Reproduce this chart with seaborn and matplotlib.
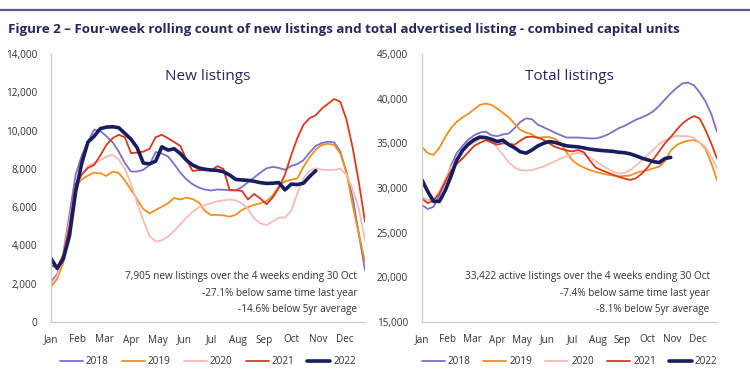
import numpy as np
import pandas as pd
import matplotlib
matplotlib.use("Agg")
import matplotlib.pyplot as plt
import seaborn as sns

sns.set_theme(style="white")
plt.rcParams['font.family'] = ['Open Sans', 'DejaVu Sans']

months = ["Jan", "Feb", "Mar", "Apr", "May", "Jun", "Jul", "Aug", "Sep", "Oct", "Nov", "Dec"]
years = ["2018", "2019", "2020", "2021", "2022"]

new_2018 = [2100, 2500, 3600, 5600, 7700, 8700, 9400, 10050, 9980, 9700, 9400, 8900, 8300, 7860,
            7860, 7950, 8200, 8880, 8800, 8650, 8250, 7800, 7450, 7200, 7020, 6920, 6870, 6920,
            6910, 6880, 6870, 7050, 7300, 7550, 7800, 8030, 8100, 8050, 7950, 8150, 8250, 8450,
            8850, 9200, 9350, 9420, 9380, 8900, 7800, 6500, 4600, 2700]
new_2019 = [1830, 2250, 3100, 5000, 7100, 7450, 7650, 7800, 7770, 7630, 7860, 7780, 7400, 6900,
            6400, 5900, 5670, 5850, 6020, 6200, 6480, 6400, 6500, 6420, 6250, 5800, 5590, 5590,
            5570, 5500, 5600, 5850, 6000, 6120, 6200, 6320, 6600, 7100, 7350, 7430, 7500, 8100,
            8600, 9000, 9250, 9310, 9250, 8800, 7800, 6100, 4600, 3140]
new_2020 = [2000, 2400, 3500, 5300, 7000, 7700, 8150, 8300, 8450, 8640, 8730, 8500, 8000, 7200,
            6200, 5300, 4500, 4200, 4270, 4450, 4750, 5100, 5450, 5750, 5980, 6110, 6200, 6300,
            6350, 6400, 6350, 6200, 5900, 5400, 5150, 5060, 5250, 5450, 5450, 5800, 6700, 7500,
            7900, 8030, 7960, 7940, 7950, 8000, 7700, 6950, 5900, 4280]
new_2021 = [2950, 2850, 3500, 5000, 7200, 7700, 8050, 8200, 8700, 9250, 9600, 9780, 9650, 8820,
            8850, 8900, 9050, 9650, 9780, 9600, 9400, 9200, 8470, 7890, 7930, 7930, 7910, 8140,
            8000, 6900, 6880, 6850, 6400, 6690, 6450, 6150, 6500, 7000, 7700, 8700, 9600, 10300,
            10650, 10800, 11150, 11400, 11650, 11500, 10560, 9100, 7300, 5240]
new_2022 = [3320, 2800, 3300, 4500, 6800, 8300, 9400, 9700, 10100, 10180, 10200, 10150, 9850, 9550,
            9100, 8300, 8260, 8400, 9150, 8980, 9050, 8800, 8450, 8200, 8050, 7980, 7940, 7920,
            7850, 7680, 7450, 7420, 7400, 7350, 7280, 7240, 7250, 7280, 6900, 7200, 7180, 7250,
            7600, 7905]

tot_2018 = [28100, 27650, 27900, 29200, 30600, 32500, 33900, 34700, 35400, 35900, 36200, 36320, 35900,
            35800, 36000, 36100, 36700, 37400, 37800, 37700, 37100, 36800, 36500, 36200, 35900, 35650,
            35650, 35650, 35600, 35550, 35550, 35700, 35950, 36300, 36700, 36950, 37300, 37650, 37900,
            38200, 38600, 39200, 39900, 40600, 41200, 41700, 41800, 41500, 40700, 39700, 38300, 36300]
tot_2019 = [34600, 33900, 33700, 34500, 35700, 36700, 37400, 37900, 38300, 38800, 39300, 39450, 39300,
            38900, 38400, 37900, 37200, 36500, 36200, 36000, 35600, 35700, 35700, 35500, 35000, 34000,
            33100, 32600, 32300, 32000, 31800, 31650, 31500, 31400, 31300, 31350, 31400, 31700, 31850,
            32000, 32200, 32400, 33000, 34200, 34800, 35100, 35300, 35350, 35100, 34400, 32800, 30900]
tot_2020 = [29000, 28650, 28700, 29600, 31000, 32300, 33300, 34100, 34700, 35150, 35450, 35550, 35200,
            34500, 33700, 32900, 32300, 32000, 31950, 32000, 32200, 32400, 32700, 33000, 33300, 33550,
            33800, 33950, 33800, 33400, 33000, 32600, 32200, 31850, 31600, 31700, 32000, 32500, 33100,
            33700, 34300, 34900, 35350, 35650, 35850, 35800, 35800, 35600, 35100, 34600, 33500, 32200]
tot_2021 = [28800, 28300, 28600, 29400, 30700, 31900, 32700, 33300, 34000, 34700, 35050, 35350, 35100,
            34850, 35000, 34950, 34850, 35300, 35700, 35750, 35650, 35400, 35000, 34600, 34400, 34200,
            34100, 34250, 34000, 33100, 32300, 32000, 31750, 31500, 31250, 31050, 30900, 31100, 31600,
            32300, 33200, 34100, 35000, 35700, 36500, 37200, 37700, 38050, 37800, 36500, 35000, 33300]
tot_2022 = [30900, 29600, 28500, 28500, 29700, 31300, 33100, 34200, 34900, 35400, 35700, 35650, 35450,
            35200, 35350, 34850, 34500, 34050, 33900, 34250, 34700, 35000, 35200, 35100, 34900, 34720,
            34650, 34600, 34480, 34350, 34270, 34200, 34150, 34100, 34000, 33950, 33820, 33600, 33350,
            33150, 32950, 32850, 33300, 33422]

new_series = [new_2018, new_2019, new_2020, new_2021, new_2022]
tot_series = [tot_2018, tot_2019, tot_2020, tot_2021, tot_2022]

colors = {"2018": "#7b70cc", "2019": "#f0901f", "2020": "#f5bcb3", "2021": "#d93a1c", "2022": "#171d5f"}
widths = {"2018": 1.3, "2019": 1.3, "2020": 1.3, "2021": 1.3, "2022": 2.6}

navy = "#23285f"
fig = plt.figure(figsize=(7.5, 3.79), dpi=100)
fig.patch.set_facecolor("white")

# top rule and title
fig.add_artist(plt.Line2D([0.0, 1.0], [1 - 10 / 379, 1 - 10 / 379], color="#5c5f82", lw=1.6))
fig.text(8 / 750, 1 - 29 / 379, "Figure 2 \u2013 Four-week rolling count of new listings and total advertised listing - combined capital units",
         fontsize=9.6, fontweight="bold", color=navy, va="center", ha="left")

ax1 = fig.add_axes([51 / 750, 57 / 379, 314 / 750, 268 / 379])
ax2 = fig.add_axes([422 / 750, 57 / 379, 295 / 750, 268 / 379])


def draw(ax, series, ylim, yticks, title, notes):
    frames = []
    for y, vals in zip(years, series):
        frames.append(pd.DataFrame({"week": np.arange(len(vals)), "value": vals, "year": y}))
    df = pd.concat(frames, ignore_index=True)
    for y in years:
        sub = df[df["year"] == y]
        sns.lineplot(data=sub, x="week", y="value", ax=ax, color=colors[y], lw=widths[y],
                     label=y, legend=False)
    ax.set_xlim(0, 51)
    ax.set_ylim(*ylim)
    ax.set_yticks(yticks)
    ax.set_yticklabels([f"{v:,}" for v in yticks])
    ax.set_xticks([i * 52 / 12 for i in range(12)])
    ax.set_xticklabels(months)
    ax.set_xlabel("")
    ax.set_ylabel("")
    ax.tick_params(axis="both", length=0, labelsize=7.2, colors="#333333")
    ax.tick_params(axis="x", pad=9)
    ax.tick_params(axis="y", pad=10)
    for s in ["top", "right"]:
        ax.spines[s].set_visible(False)
    for s in ["left", "bottom"]:
        ax.spines[s].set_color("#c9c9c9")
        ax.spines[s].set_linewidth(0.9)
    ax.set_facecolor("none")
    ax.text(0.5, 0.915, title, transform=ax.transAxes, ha="center", va="center",
            fontsize=11, color=navy)
    for i, t in enumerate(notes):
        ax.text(0.975, 0.17 - i * 0.062, t, transform=ax.transAxes, ha="right", va="center",
                fontsize=7.2, color="#333333")
    handles, labels = ax.get_legend_handles_labels()
    leg = ax.legend(handles, labels, loc="upper center", bbox_to_anchor=(0.5, -0.095), ncol=5,
                    frameon=False, fontsize=7.2, handlelength=2.3, columnspacing=1.3,
                    handletextpad=0.3)
    for t in leg.get_texts():
        t.set_color("#333333")


draw(ax1, new_series, (0, 14000), list(range(0, 14001, 2000)), "New listings",
     ["7,905 new listings over the 4 weeks ending 30 Oct",
      "-27.1% below same time last year",
      "-14.6% below 5yr average"])
draw(ax2, tot_series, (15000, 45000), list(range(15000, 45001, 5000)), "Total listings",
     ["33,422 active listings over the 4 weeks ending 30 Oct",
      "-7.4% below same time last year",
      "-8.1% below 5yr average"])

fig.savefig("out.png", dpi=100, facecolor="white")
